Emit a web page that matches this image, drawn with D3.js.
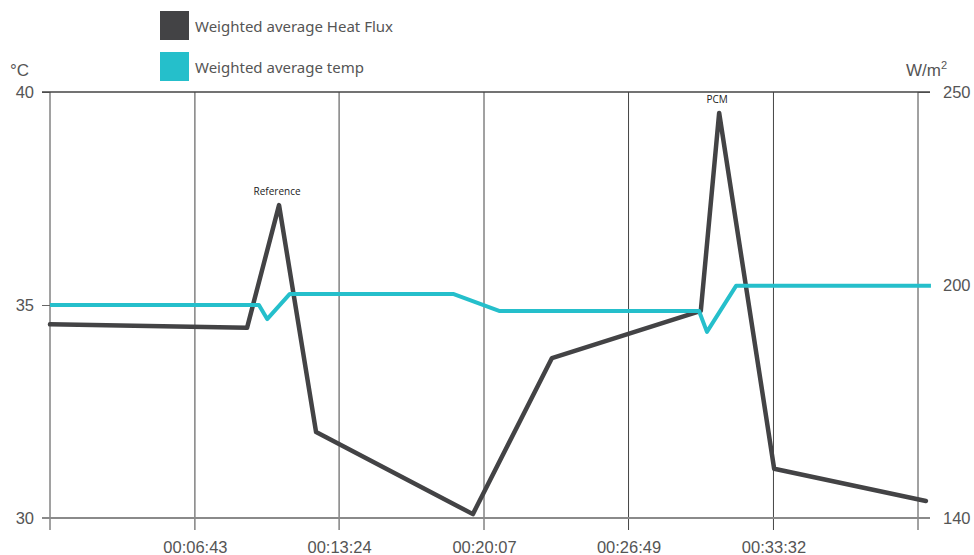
<!DOCTYPE html>
<html>
<head>
<meta charset="utf-8">
<script src="https://cdn.jsdelivr.net/npm/d3@7"></script>
<style>
  body { margin: 0; background: #fff; }
  svg { display: block; }
  .tick text { font-family: "Liberation Sans", Arial, sans-serif; font-size: 16.5px; fill: #555; }
  .legend text { font-family: "Noto Sans", sans-serif; font-size: 15px; fill: #555; }
  .note { font-family: "Open Sans", sans-serif; font-size: 10px; fill: #222; }
  .unit { font-family: "Liberation Sans", Arial, sans-serif; font-size: 17px; fill: #555; }
</style>
</head>
<body>
<svg id="chart" width="974" height="555"></svg>
<script>
// time in seconds from start
const flux_time = [0, 548, 637, 740, 1176, 1396, 1810, 1861, 2014, 2436]
const flux_values = [190.0, 189.1, 220.8, 162.2, 141.0, 181.3, 193.5, 244.6, 152.7, 144.4]

const temp_time = [0, 581, 604, 667, 1121, 1249, 1805, 1827, 1908, 2450]
const temp_values = [35.0, 35.0, 34.67, 35.26, 35.26, 34.86, 34.86, 34.37, 35.45, 35.45]

const x_ticks = [403, 804, 1207, 1609, 2012, 2414]
const x_tick_labels = ['00:06:43', '00:13:24', '00:20:07', '00:26:49', '00:33:32', '']
const left_ticks = [30, 35, 40]
const right_ticks = [140, 200, 250]

const series_names = ['Weighted average Heat Flux', 'Weighted average temp']
const series_colors = ['#434345', '#25bfcb']

const notes = [
  {label: 'Reference', t: 637, v: 220.8},
  {label: 'PCM', t: 1861, v: 244.6}
]

const margin = {left: 50, right: 56, top: 92, bottom: 37}
const width = 974, height = 555

const svg = d3.select('#chart')

const x = d3.scaleLinear().domain([0, 2414]).range([margin.left, width - margin.right])
const y_left = d3.scaleLinear().domain([30, 40]).range([height - margin.bottom, margin.top])
const y_right = d3.scaleLinear().domain([140, 250]).range([height - margin.bottom, margin.top])

const bottom = height - margin.bottom

// vertical grid lines
svg.append('g')
  .selectAll('line')
  .data([0].concat(x_ticks))
  .enter()
  .append('line')
  .attr('x1', (d)=> x(d))
  .attr('x2', (d)=> x(d))
  .attr('y1', margin.top)
  .attr('y2', bottom + 12)
  .attr('stroke', '#444')
  .attr('stroke-width', 1)

// x axis labels
const x_axis = svg.append('g')
  .attr('transform', `translate(0,${bottom})`)
  .call(d3.axisBottom(x)
    .tickValues(x_ticks)
    .tickSize(0)
    .tickPadding(23)
    .tickFormat((d, i)=> x_tick_labels[i]))
x_axis.select('.domain').remove()

// left axis
const left_axis = svg.append('g')
  .attr('transform', `translate(${margin.left},0)`)
  .call(d3.axisLeft(y_left).tickValues(left_ticks).tickSize(8).tickPadding(8))
left_axis.select('.domain').remove()
left_axis.selectAll('.tick line').attr('stroke', '#666')

// right axis
const right_axis = svg.append('g')
  .attr('transform', `translate(${width - margin.right},0)`)
  .call(d3.axisRight(y_right).tickValues(right_ticks).tickSize(12).tickPadding(13))
right_axis.select('.domain').remove()
right_axis.selectAll('.tick line').attr('stroke', '#666')

// top and bottom frame lines
svg.append('line')
  .attr('x1', margin.left - 8).attr('x2', width - margin.right + 12)
  .attr('y1', y_left(40)).attr('y2', y_left(40))
  .attr('stroke', '#444').attr('stroke-width', 1.5)
svg.append('line')
  .attr('x1', margin.left - 8).attr('x2', width - margin.right + 12)
  .attr('y1', y_left(30)).attr('y2', y_left(30))
  .attr('stroke', '#8a8a8a').attr('stroke-width', 2)

// units
svg.append('text').attr('class', 'unit').attr('x', 10).attr('y', 76).text('°C')
const unit_r = svg.append('text').attr('class', 'unit').attr('x', 906).attr('y', 76).text('W/m')
unit_r.append('tspan').attr('dy', -7).attr('font-size', 11).text('2')

// lines
const flux_line = d3.line()
  .x((d)=> x(d[0]))
  .y((d)=> y_right(d[1]))
const temp_line = d3.line()
  .x((d)=> x(d[0]))
  .y((d)=> y_left(d[1]))

svg.append('path')
  .datum(d3.zip(flux_time, flux_values))
  .attr('d', flux_line)
  .attr('fill', 'none')
  .attr('stroke', series_colors[0])
  .attr('stroke-width', 4.5)
  .attr('stroke-linejoin', 'round')
  .attr('stroke-linecap', 'round')

svg.append('path')
  .datum(d3.zip(temp_time, temp_values))
  .attr('d', temp_line)
  .attr('fill', 'none')
  .attr('stroke', series_colors[1])
  .attr('stroke-width', 4)
  .attr('stroke-linejoin', 'round')

// peak notes
svg.selectAll('.note')
  .data(notes)
  .enter()
  .append('text')
  .attr('class', 'note')
  .attr('text-anchor', 'middle')
  .attr('x', (d)=> x(d.t) - 2)
  .attr('y', (d)=> y_right(d.v) - 10)
  .text((d)=> d.label)

// legend
const legend = svg.append('g').attr('class', 'legend')
  .selectAll('g')
  .data(series_names)
  .enter()
  .append('g')
  .attr('transform', (d, i)=> `translate(160,${11 + i * 41})`)
legend.append('rect')
  .attr('width', 29).attr('height', 29)
  .attr('fill', (d, i)=> series_colors[i])
legend.append('text')
  .attr('x', 35).attr('y', 21)
  .text((d)=> d)
</script>
</body>
</html>
